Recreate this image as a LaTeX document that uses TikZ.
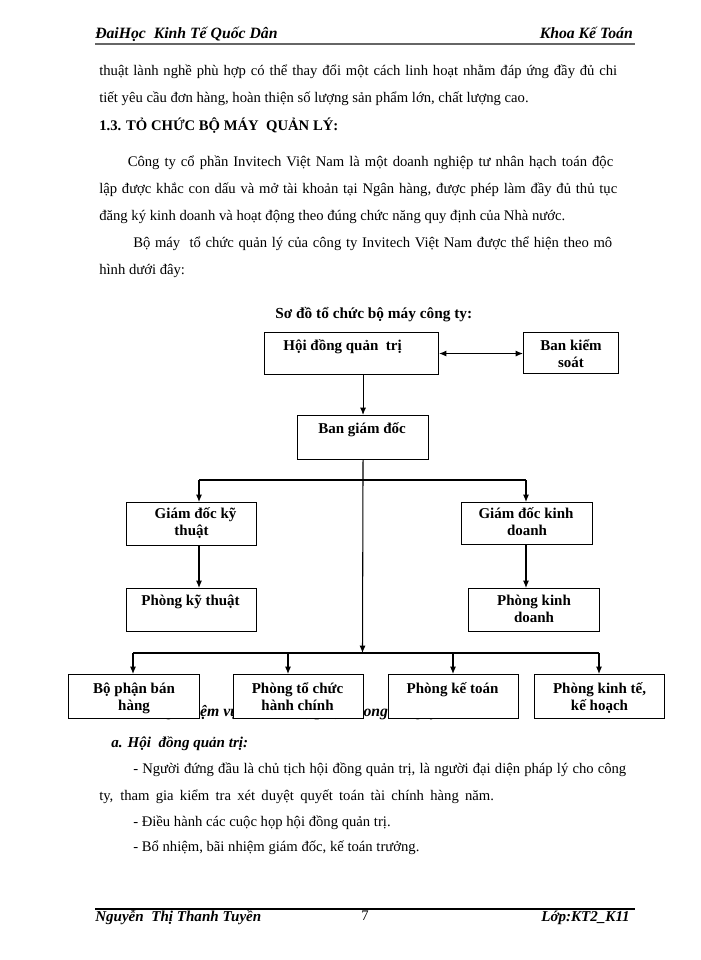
\documentclass[tikz,border=0pt]{standalone}
\usepackage{fontspec}
\setmainfont{Liberation Serif}
\usetikzlibrary{arrows.meta,calc}
\newcommand\fbody{\fontsize{11pt}{13pt}\selectfont}
\newcommand\boxfont{\fontsize{11.25pt}{13pt}\selectfont\bfseries}
\newcommand\titlefont{\fontsize{11.5pt}{13pt}\selectfont\bfseries}
\newcommand\headfont{\fontsize{11pt}{13pt}\selectfont\bfseries}
\newcommand\hdfont{\fontsize{11.8pt}{13pt}\selectfont\bfseries\itshape}
\newcommand\bifont{\fontsize{11.3pt}{13pt}\selectfont\bfseries\itshape}
\newcommand\hidfont{\fontsize{11.8pt}{13pt}\selectfont\bfseries\itshape}
\newcommand\jl[2]{\makebox[#1pt][s]{#2}}
\begin{document}
\begin{tikzpicture}[x=0.75pt,y=-0.75pt,
  txt/.style={anchor=base west, inner sep=0pt, font=\fbody},
  hd/.style={anchor=base west, inner sep=0pt, font=\hdfont},
  bi/.style={anchor=base west, inner sep=0pt, font=\bifont},
  orgbox/.style={draw, fill=white, line width=0.8pt, inner sep=0pt, anchor=north west},
  lab/.style={anchor=base, inner sep=0pt, font=\boxfont},
  conn/.style={line width=0.8pt},
  arr/.style={conn, -{Latex[length=5.5pt,width=4.5pt]}},
  darr/.style={conn, {Latex[length=5.5pt,width=4.5pt]}-{Latex[length=5.5pt,width=4.5pt]}}]
\useasboundingbox (0,0) rectangle (700,960);
\fill[white] (0,0) rectangle (700,960);

% header
\node[hd] (h1) at (95,38) {ĐaiHọc\ \ Kinh Tế Quốc Dân};
\node[hd, anchor=base east] (h2) at (633,38) {Khoa Kế Toán};
\draw[line width=2pt, black!60] (95,44) -- (635,44);

% body text
\node[txt] (p1) at (99,75) {\jl{388.5}{thuật lành nghề phù hợp có thể thay đổi một cách linh hoạt nhằm đáp ứng đầy đủ chi}};
\node[txt] (p2) at (99,102) {tiết yêu cầu đơn hàng,\ hoàn thiện số lượng sản phẩm\ lớn, chất lượng cao.};
\node[anchor=base west, inner sep=0pt, font=\headfont] (p3) at (99,130) {1.3. TỎ CHỨC BỘ MÁY\ \ QUẢN LÝ:};
\node[txt] (p4) at (127.5,166) {\jl{364.1}{Công ty cổ phần Invitech Việt Nam là một doanh nghiệp tư nhân hạch toán độc}};
\node[txt] (p5) at (99,193) {\jl{388.5}{lập được khắc con dấu và mở tài khoản tại Ngân hàng, được phép làm đầy đủ thủ tục}};
\node[txt] (p6) at (99,220) {đăng ký kinh doanh và hoạt động theo đúng chức năng quy định của Nhà nước.};
\node[txt] (p7) at (133,247) {\jl{359.25}{Bộ máy\ \ tổ chức quản lý của công ty Invitech Việt Nam được thể hiện theo mô}};
\node[txt] (p8) at (99,274) {hình dưới đây:};

% diagram title
\node[anchor=base west, inner sep=0pt, font=\titlefont] (title) at (275,318) {Sơ đồ tổ chức bộ máy\ công ty:};

% text hidden behind the bottom boxes
\node[anchor=base east, inner sep=0pt, font=\hidfont] (hid) at (439,716) {1.4. Chức năng nhiệm vụ của các bộ phận trong công ty};

% boxes
\node[orgbox, minimum width=130.5pt, minimum height=31.5pt] (hdqt) at (264,332) {};
\node[orgbox, minimum width=71.25pt, minimum height=30.75pt] (bks) at (523,332) {};
\node[orgbox, minimum width=98.25pt, minimum height=33pt] (bgd) at (297,415) {};
\node[orgbox, minimum width=97.5pt, minimum height=32.25pt] (gdkt) at (126,502) {};
\node[orgbox, minimum width=97.5pt, minimum height=32.25pt] (pkt) at (126,588) {};
\node[orgbox, minimum width=98.25pt, minimum height=31.5pt] (gdkd) at (461,502) {};
\node[orgbox, minimum width=98.25pt, minimum height=32.25pt] (pkd) at (468,588) {};
\node[orgbox, minimum width=98.25pt, minimum height=33pt] (b1) at (68,674) {};
\node[orgbox, minimum width=97.5pt, minimum height=33pt] (b2) at (233,674) {};
\node[orgbox, minimum width=97.5pt, minimum height=33pt] (b3) at (388,674) {};
\node[orgbox, minimum width=97.5pt, minimum height=33pt] (b4) at (534,674) {};

% box labels
\node[lab] (hdqt-t) at ($(hdqt.north)+(-9,18)$) {Hội đồng quản\ \ trị};
\node[lab] (bks-t1) at ($(bks.north)+(0,18)$) {Ban kiểm};
\node[lab] (bks-t2) at ($(bks.north)+(0,35)$) {soát};
\node[lab] (bgd-t) at ($(bgd.north)+(-1,18)$) {Ban giám đốc};
\node[lab] (gdkt-t1) at ($(gdkt.north)+(4,16)$) {Giám đốc kỹ};
\node[lab] (gdkt-t2) at ($(gdkt.north)+(0,33)$) {thuật};
\node[lab] (pkt-t) at ($(pkt.north)+(-1,17)$) {Phòng kỹ\ thuật};
\node[lab] (gdkd-t1) at ($(gdkd.north)+(-1,16)$) {Giám đốc kinh};
\node[lab] (gdkd-t2) at ($(gdkd.north)+(0,33)$) {doanh};
\node[lab] (pkd-t1) at ($(pkd.north)+(0,17)$) {Phòng kinh};
\node[lab] (pkd-t2) at ($(pkd.north)+(0,34)$) {doanh};
\node[lab] (b1-t1) at ($(b1.north)+(0,19)$) {Bộ phận\ bán};
\node[lab] (b1-t2) at ($(b1.north)+(0,36)$) {hàng};
\node[lab] (b2-t1) at ($(b2.north)+(-1,19)$) {Phòng tổ chức};
\node[lab] (b2-t2) at ($(b2.north)+(-1,36)$) {hành\ chính};
\node[lab] (b3-t) at ($(b3.north)+(-1,19)$) {Phòng kế toán};
\node[lab] (b4-t1) at ($(b4.north)+(0,19)$) {Phòng kinh tế,};
\node[lab] (b4-t2) at ($(b4.north)+(0,36)$) {kế hoạch};

% junctions
\coordinate (j2) at (362.5,653);
\coordinate (l2a) at (199,480);
\coordinate (l2b) at (526,480);
\coordinate (l3a) at (133,653);
\coordinate (l3b) at (288,653);
\coordinate (l3c) at (453,653);
\coordinate (l3d) at (599,653);

% connectors
\draw[arr] (bgd.north |- hdqt.south) -- (bgd.north);
\draw[darr] (hdqt.east) -- (hdqt.east -| bks.west);
\draw[arr] (bgd.south) -- (j2);
\draw[conn] (l2a) -- (l2b);
\draw[arr] (l2a) -- (l2a |- gdkt.north);
\draw[arr] (l2b) -- (l2b |- gdkd.north);
\draw[arr] (l2a |- gdkt.south) -- (l2a |- pkt.north);
\draw[arr] (l2b |- gdkd.south) -- (l2b |- pkd.north);
\draw[conn] (l3a) -- (l3d);
\draw[arr] (l3a) -- (l3a |- b1.north);
\draw[arr] (l3b) -- (l3b |- b2.north);
\draw[arr] (l3c) -- (l3c |- b3.north);
\draw[arr] (l3d) -- (l3d |- b4.north);

% lower text
\node[bi] (a1) at (111,747) {a. Hội\ \ đồng quản trị:};
\node[txt] (q1) at (133,773) {\jl{369.75}{- Người đứng đầu là chủ tịch hội đồng quản\ trị, là người đại diện pháp\ lý cho công}};
\node[txt] (q2) at (99,800) {\jl{296}{ty, tham gia kiểm tra xét duyệt quyết toán tài chính hàng năm.}};
\node[txt] (q3) at (133,826) {- Điều hành\ các cuộc họp hội đồng quản trị.};
\node[txt] (q4) at (133,851) {- Bổ nhiệm,\ bãi nhiệm giám đốc, kế toán trưởng.};

% footer
\draw[line width=1.5pt] (95,909) -- (635,909);
\node[anchor=base west, inner sep=0pt, font=\bifont] (f1) at (95,921) {Nguyễn\ \ Thị Thanh Tuyền};
\node[anchor=base, inner sep=0pt, font=\fontsize{11pt}{12pt}\selectfont] (f2) at (365,920) {7};
\node[anchor=base east, inner sep=0pt, font=\bifont] (f3) at (630,921) {Lớp:KT2\_K11};
\end{tikzpicture}
\end{document}
